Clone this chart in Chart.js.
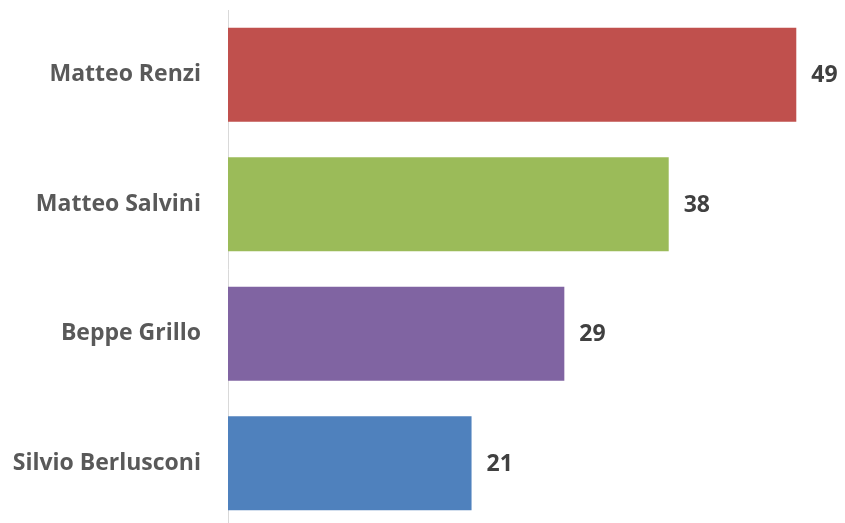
<!DOCTYPE html>
<html>
<head>
<meta charset="utf-8">
<script src="https://cdn.jsdelivr.net/npm/chart.js@4"></script>
<style>
  html, body { margin: 0; padding: 0; background: #fff; }
  #wrap { width: 845px; height: 523px; overflow: hidden; }
</style>
</head>
<body>
<div id="wrap"><canvas id="chart" width="845" height="528"></canvas></div>
<script>
const names = ['Matteo Renzi', 'Matteo Salvini', 'Beppe Grillo', 'Silvio Berlusconi'];
const values = [49, 38, 29, 21];
const barColors = ['#C0504D', '#9BBB59', '#8064A2', '#4F81BD'];

const FONT = '"Open Sans", Lato, sans-serif';

// draws the number just after each bar
const valueLabels = {
    id: 'valueLabels',
    afterDatasetsDraw(chart) {
        const ctx = chart.ctx;
        const meta = chart.getDatasetMeta(0);
        ctx.save();
        ctx.font = 'bold 23px ' + FONT;
        ctx.fillStyle = '#404040';
        ctx.textAlign = 'left';
        ctx.textBaseline = 'middle';
        meta.data.forEach((bar, i) => {
            ctx.fillText(values[i], bar.x + 15, bar.y + 1);
        });
        ctx.restore();
    }
};

new Chart(document.getElementById('chart'), {
    type: 'bar',
    data: {
        labels: names,
        datasets: [{
            data: values,
            backgroundColor: barColors,
            borderWidth: 0,
            barPercentage: 0.726,
            categoryPercentage: 1
        }]
    },
    options: {
        indexAxis: 'y',
        responsive: false,
        animation: false,
        layout: { padding: { top: 10, bottom: 0, left: 0, right: 0 } },
        plugins: {
            legend: { display: false },
            tooltip: { enabled: false }
        },
        scales: {
            x: {
                display: false,
                min: 0,
                max: 53.2
            },
            y: {
                afterFit(scale) {
                    scale.width = 228;
                    scale.paddingTop = 0;
                    scale.paddingBottom = 0;
                },
                grid: { display: false, drawTicks: false },
                border: { display: true, color: '#D9D9D9', width: 1 },
                ticks: {
                    padding: 27,
                    color: '#595959',
                    font: { family: FONT, weight: 'bold', size: 23 }
                }
            }
        }
    },
    plugins: [valueLabels]
});
</script>
</body>
</html>
